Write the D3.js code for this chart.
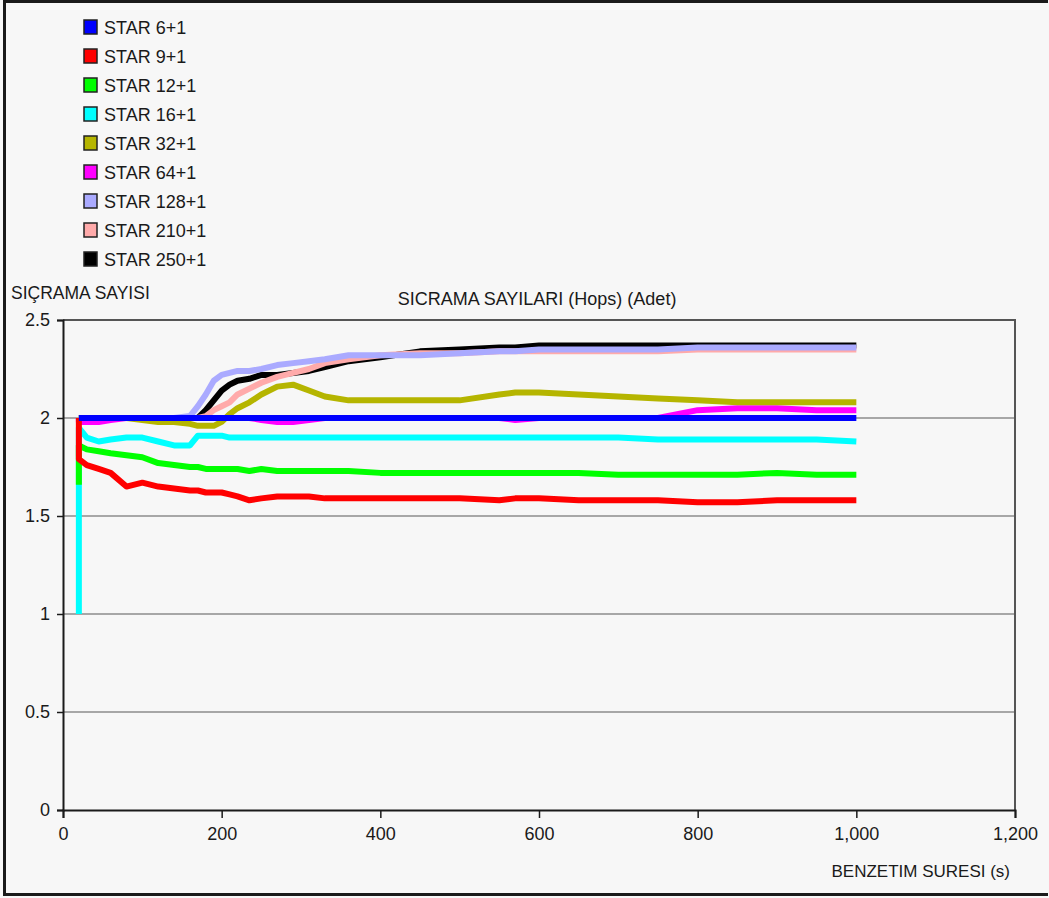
<!DOCTYPE html>
<html>
<head>
<meta charset="utf-8">
<script src="https://cdn.jsdelivr.net/npm/d3@7"></script>
<style>
  body { margin: 0; background: #f7f7f7; }
  svg text { font-family: "Liberation Sans", Arial, sans-serif; fill: #1a1a1a; }
</style>
</head>
<body>
<script>
// chart size, same as the window
var width = 1049,
    height = 898;

// legend names, in the order they are listed
var seriesNames = ['STAR 6+1', 'STAR 9+1', 'STAR 12+1', 'STAR 16+1', 'STAR 32+1',
                   'STAR 64+1', 'STAR 128+1', 'STAR 210+1', 'STAR 250+1'];
var seriesColors = ['#0000ff', '#ff0000', '#00ff00', '#00ffff', '#b5b500',
                    '#ff00ff', '#aaaaff', '#ffaaaa', '#000000'];

// simulation time (s), 20 is repeated for the jump at the start
var times = [20, 20, 30, 45, 60, 80, 100, 120, 140, 160, 170, 180, 190, 200, 210, 220, 235, 250,
             270, 290, 310, 330, 360, 400, 450, 500, 550, 570, 600, 650, 700, 750, 800, 850, 900, 950, 1000];

// hop counts, one value per time
var star6 = [2.00, 2.00, 2.00, 2.00, 2.00, 2.00, 2.00, 2.00, 2.00, 2.00, 2.00, 2.00, 2.00, 2.00, 2.00, 2.00, 2.00, 2.00,
             2.00, 2.00, 2.00, 2.00, 2.00, 2.00, 2.00, 2.00, 2.00, 2.00, 2.00, 2.00, 2.00, 2.00, 2.00, 2.00, 2.00, 2.00, 2.00];
var star9 = [2.00, 1.79, 1.76, 1.74, 1.72, 1.65, 1.67, 1.65, 1.64, 1.63, 1.63, 1.62, 1.62, 1.62, 1.61, 1.60, 1.58, 1.59,
             1.60, 1.60, 1.60, 1.59, 1.59, 1.59, 1.59, 1.59, 1.58, 1.59, 1.59, 1.58, 1.58, 1.58, 1.57, 1.57, 1.58, 1.58, 1.58];
var star12 = [1.66, 1.86, 1.84, 1.83, 1.82, 1.81, 1.80, 1.77, 1.76, 1.75, 1.75, 1.74, 1.74, 1.74, 1.74, 1.74, 1.73, 1.74,
              1.73, 1.73, 1.73, 1.73, 1.73, 1.72, 1.72, 1.72, 1.72, 1.72, 1.72, 1.72, 1.71, 1.71, 1.71, 1.71, 1.72, 1.71, 1.71];
var star16 = [1.00, 1.95, 1.90, 1.88, 1.89, 1.90, 1.90, 1.88, 1.86, 1.86, 1.91, 1.91, 1.91, 1.91, 1.90, 1.90, 1.90, 1.90,
              1.90, 1.90, 1.90, 1.90, 1.90, 1.90, 1.90, 1.90, 1.90, 1.90, 1.90, 1.90, 1.90, 1.89, 1.89, 1.89, 1.89, 1.89, 1.88];
var star32 = [2.00, 2.00, 2.00, 2.00, 2.00, 2.00, 1.99, 1.98, 1.98, 1.97, 1.96, 1.96, 1.96, 1.98, 2.02, 2.05, 2.08, 2.12,
              2.16, 2.17, 2.14, 2.11, 2.09, 2.09, 2.09, 2.09, 2.12, 2.13, 2.13, 2.12, 2.11, 2.10, 2.09, 2.08, 2.08, 2.08, 2.08];
var star64 = [2.00, 1.98, 1.98, 1.98, 1.99, 2.00, 2.00, 2.00, 2.00, 2.00, 2.00, 2.00, 2.00, 2.00, 2.00, 2.00, 2.00, 1.99,
              1.98, 1.98, 1.99, 2.00, 2.00, 2.00, 2.00, 2.00, 2.00, 1.99, 2.00, 2.00, 2.00, 2.00, 2.04, 2.05, 2.05, 2.04, 2.04];
var star128 = [2.00, 2.00, 2.00, 2.00, 2.00, 2.00, 2.00, 2.00, 2.00, 2.01, 2.06, 2.12, 2.19, 2.22, 2.23, 2.24, 2.24, 2.25,
               2.27, 2.28, 2.29, 2.30, 2.32, 2.32, 2.32, 2.33, 2.34, 2.34, 2.35, 2.35, 2.35, 2.35, 2.36, 2.36, 2.36, 2.36, 2.36];
var star210 = [2.00, 2.00, 2.00, 2.00, 2.00, 2.00, 2.00, 2.00, 2.00, 2.00, 2.00, 2.01, 2.04, 2.06, 2.08, 2.12, 2.15, 2.18,
               2.21, 2.23, 2.25, 2.28, 2.30, 2.32, 2.33, 2.33, 2.34, 2.34, 2.34, 2.34, 2.34, 2.34, 2.35, 2.35, 2.35, 2.35, 2.35];
var star250 = [2.00, 2.00, 2.00, 2.00, 2.00, 2.00, 2.00, 2.00, 2.00, 2.00, 2.00, 2.04, 2.09, 2.14, 2.17, 2.19, 2.20, 2.22,
               2.22, 2.23, 2.24, 2.26, 2.29, 2.31, 2.34, 2.35, 2.36, 2.36, 2.37, 2.37, 2.37, 2.37, 2.37, 2.37, 2.37, 2.37, 2.37];
var seriesValues = [star6, star9, star12, star16, star32, star64, star128, star210, star250];

// axis ticks
var xTicks = [0, 200, 400, 600, 800, 1000, 1200];
var yTicks = [0, 0.5, 1, 1.5, 2, 2.5];

var svg = d3.select('body')
  .append('svg')
  .attr('width', width)
  .attr('height', height);

// outer frame (left, top, bottom edges only)
svg.append('path')
  .attr('d', 'M' + (width - 1) + ',1.5H4.5V894.5H' + (width - 1))
  .attr('fill', 'none')
  .attr('stroke', '#1a1a1a')
  .attr('stroke-width', 3);

var x = d3.scaleLinear().domain([0, 1200]).range([63, 1015]);
var y = d3.scaleLinear().domain([0, 2.5]).range([810, 320]);

// horizontal grid lines
svg.append('g')
  .selectAll('line')
  .data(yTicks.filter(function(d) { return d > 0 && d < 2.5; }))
  .enter().append('line')
  .attr('x1', x(0)).attr('x2', x(1200))
  .attr('y1', function(d) { return y(d); })
  .attr('y2', function(d) { return y(d); })
  .attr('stroke', '#8c8c8c')
  .attr('stroke-width', 1.5);

// top and right frame of the plot
svg.append('path')
  .attr('d', 'M' + x(0) + ',' + y(2.5) + 'H' + x(1200) + 'V' + y(0))
  .attr('fill', 'none')
  .attr('stroke', '#555')
  .attr('stroke-width', 2);

// lines, drawn last series first so STAR 6+1 sits on top
var line = d3.line()
  .x(function(d) { return x(d[0]); })
  .y(function(d) { return y(d[1]); });

var seriesData = seriesNames.map(function(name, i) {
  return {
    name: name,
    color: seriesColors[i],
    points: times.map(function(t, j) { return [t, seriesValues[i][j]]; })
  };
});

svg.append('g')
  .selectAll('path')
  .data(seriesData.slice().reverse())
  .enter().append('path')
  .attr('d', function(d) { return line(d.points); })
  .attr('fill', 'none')
  .attr('stroke', function(d) { return d.color; })
  .attr('stroke-width', 6)
  .attr('stroke-linejoin', 'round');

// axes
var yAxis = svg.append('g')
  .attr('transform', 'translate(' + x(0) + ',0)')
  .call(d3.axisLeft(y).tickValues(yTicks).tickSize(6).tickPadding(7)
    .tickFormat(function(d) { return String(d); }));

var xAxis = svg.append('g')
  .attr('transform', 'translate(0,' + y(0) + ')')
  .call(d3.axisBottom(x).tickValues(xTicks).tickSize(8).tickPadding(9)
    .tickFormat(d3.format(',')));

[yAxis, xAxis].forEach(function(g) {
  g.select('.domain').attr('stroke', '#1a1a1a').attr('stroke-width', 2);
  g.selectAll('.tick line').attr('stroke', '#1a1a1a').attr('stroke-width', 1.5);
  g.selectAll('.tick text')
    .style('font-family', '"Liberation Sans", Arial, sans-serif')
    .style('font-size', '18px')
    .attr('fill', '#1a1a1a');
});

// titles
svg.append('text')
  .attr('x', 11).attr('y', 299)
  .style('font-size', '17.5px')
  .text('SIÇRAMA SAYISI');

svg.append('text')
  .attr('x', 537).attr('y', 305)
  .attr('text-anchor', 'middle')
  .style('font-size', '18px')
  .text('SICRAMA SAYILARI (Hops) (Adet)');

svg.append('text')
  .attr('x', 1010).attr('y', 877)
  .attr('text-anchor', 'end')
  .style('font-size', '17px')
  .text('BENZETIM SURESI (s)');

// legend
var legend = svg.append('g')
  .selectAll('g')
  .data(seriesData)
  .enter().append('g')
  .attr('transform', function(d, i) { return 'translate(84,' + (20 + i * 29) + ')'; });

legend.append('rect')
  .attr('width', 13).attr('height', 14)
  .attr('fill', function(d) { return d.color; })
  .attr('stroke', '#222')
  .attr('stroke-width', 1.5);

legend.append('text')
  .attr('x', 20).attr('y', 13.5)
  .style('font-size', '18px')
  .text(function(d) { return d.name; });
</script>
</body>
</html>
